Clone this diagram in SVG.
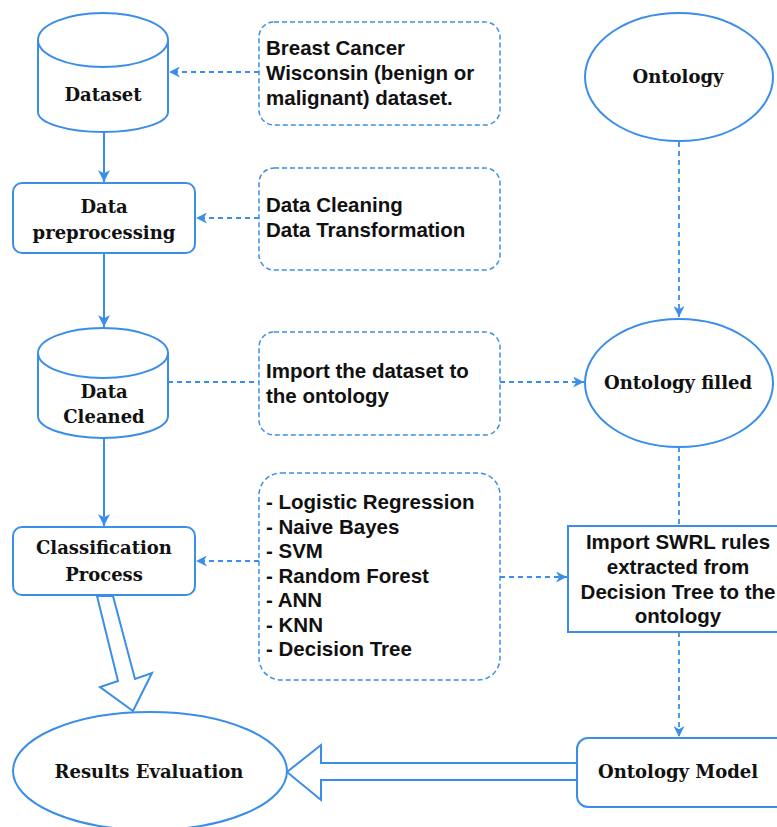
<svg xmlns="http://www.w3.org/2000/svg" width="777" height="827" viewBox="0 0 777 827">
<style>
.sh{fill:#fff;stroke:#3a8ee8;stroke-width:2}
.dbox{fill:#fff;stroke:#3a8ee8;stroke-width:1.5;stroke-dasharray:5,3}
.ser{font-family:"DejaVu Serif","Liberation Serif",serif;font-weight:bold;font-size:18px;fill:#111;text-anchor:middle}
.san{font-family:"Liberation Sans",Arial,sans-serif;font-weight:bold;font-size:20.5px;fill:#111}
.mid{text-anchor:middle}
.sol{fill:none;stroke:#3a8ee8;stroke-width:2}
.das{fill:none;stroke:#3a8ee8;stroke-width:1.8;stroke-dasharray:5,4}
.blk{fill:#fff;stroke:#3a8ee8;stroke-width:2;stroke-linejoin:miter}
</style>
<defs>
<marker id="ah" viewBox="0 0 10 10" refX="10" refY="5" markerWidth="12" markerHeight="12" markerUnits="userSpaceOnUse" orient="auto">
<path d="M0,0 L10,5 L0,10 L3,5 z" fill="#3a8ee8"/>
</marker>
<marker id="ah2" viewBox="0 0 10 10" refX="10" refY="5" markerWidth="11" markerHeight="11" markerUnits="userSpaceOnUse" orient="auto">
<path d="M0,0 L10,5 L0,10 L3,5 z" fill="#3a8ee8"/>
</marker>
</defs>

<g id="connectors">
<line class="sol" x1="104" y1="132" x2="104" y2="182" marker-end="url(#ah)"/>
<line class="sol" x1="104" y1="253" x2="104" y2="327" marker-end="url(#ah)"/>
<line class="sol" x1="104" y1="438" x2="104" y2="526" marker-end="url(#ah)"/>
<line class="das" x1="259" y1="72" x2="169" y2="72" marker-end="url(#ah2)"/>
<line class="das" x1="259" y1="218" x2="196" y2="218" marker-end="url(#ah2)"/>
<line class="das" x1="168" y1="382" x2="259" y2="382"/>
<line class="das" x1="500" y1="382" x2="584" y2="382" marker-end="url(#ah2)"/>
<line class="das" x1="679" y1="142" x2="679" y2="317" marker-end="url(#ah2)"/>
<line class="das" x1="259" y1="561" x2="196" y2="561" marker-end="url(#ah2)"/>
<line class="das" x1="500" y1="577" x2="567" y2="577" marker-end="url(#ah2)"/>
<line class="das" x1="679" y1="447" x2="679" y2="526"/>
<line class="das" x1="679" y1="632" x2="679" y2="737" marker-end="url(#ah2)"/>
<polygon class="blk" points="97,596 113,596 135,679 152,673 133,711 100,687 118,681"/>
<polygon class="blk" points="577,763 321,763 321,745 287,772 321,800 321,780 577,780"/>
</g>

<g id="dataset">
<path class="sh" d="M38,40 A65,27 0 0 1 168,40 L168,112 A65,20 0 0 1 38,112 Z"/>
<path class="sh" style="fill:none" d="M38,40 A65,27 0 0 0 168,40"/>
<text class="ser" x="103" y="101">Dataset</text>
</g>

<g id="breast-cancer">
<rect class="dbox" x="259" y="22" width="241" height="103" rx="15"/>
<text class="san" x="266" y="55">Breast Cancer</text>
<text class="san" x="266" y="80">Wisconsin (benign or</text>
<text class="san" x="266" y="105">malignant) dataset.</text>
</g>

<g id="preprocessing">
<rect class="sh" x="13" y="183" width="182" height="70" rx="9"/>
<text class="ser" x="104" y="213">Data</text>
<text class="ser" x="104" y="239">preprocessing</text>
</g>

<g id="cleaning">
<rect class="dbox" x="259" y="168" width="241" height="102" rx="15"/>
<text class="san" x="266" y="212">Data Cleaning</text>
<text class="san" x="266" y="237">Data Transformation</text>
</g>

<g id="ontology">
<ellipse class="sh" cx="679" cy="77" rx="94" ry="64"/>
<text class="ser" x="678" y="83">Ontology</text>
</g>

<g id="data-cleaned">
<path class="sh" d="M38,353 A65,25 0 0 1 168,353 L168,416 A65,22 0 0 1 38,416 Z"/>
<path class="sh" style="fill:none" d="M38,353 A65,25 0 0 0 168,353"/>
<text class="ser" x="104" y="398">Data</text>
<text class="ser" x="104" y="423">Cleaned</text>
</g>

<g id="import-dataset">
<rect class="dbox" x="259" y="332" width="241" height="103" rx="15"/>
<text class="san" x="266" y="378">Import the dataset to</text>
<text class="san" x="266" y="403">the ontology</text>
</g>

<g id="ontology-filled">
<ellipse class="sh" cx="679" cy="383" rx="94" ry="64"/>
<text class="ser" x="678" y="389">Ontology filled</text>
</g>

<g id="classification">
<rect class="sh" x="13" y="527" width="182" height="68" rx="9"/>
<text class="ser" x="104" y="554">Classification</text>
<text class="ser" x="104" y="581">Process</text>
</g>

<g id="algorithms">
<rect class="dbox" x="259" y="473" width="241" height="207" rx="22"/>
<text class="san" x="266" y="509">- Logistic Regression</text>
<text class="san" x="266" y="533.5">- Naive Bayes</text>
<text class="san" x="266" y="558">- SVM</text>
<text class="san" x="266" y="582.5">- Random Forest</text>
<text class="san" x="266" y="607">- ANN</text>
<text class="san" x="266" y="631.5">- KNN</text>
<text class="san" x="266" y="656">- Decision Tree</text>
</g>

<g id="swrl">
<rect class="sh" x="568" y="526" width="212" height="106"/>
<text class="san mid" x="678" y="549">Import SWRL rules</text>
<text class="san mid" x="678" y="574">extracted from</text>
<text class="san mid" x="678" y="599">Decision Tree to the</text>
<text class="san mid" x="678" y="623">ontology</text>
</g>

<g id="ontology-model">
<rect class="sh" x="577" y="738" width="210" height="69" rx="11"/>
<text class="ser" x="678" y="778">Ontology Model</text>
</g>

<g id="results">
<ellipse class="sh" cx="150" cy="771" rx="137" ry="59"/>
<text class="ser" x="149" y="778">Results Evaluation</text>
</g>
</svg>
